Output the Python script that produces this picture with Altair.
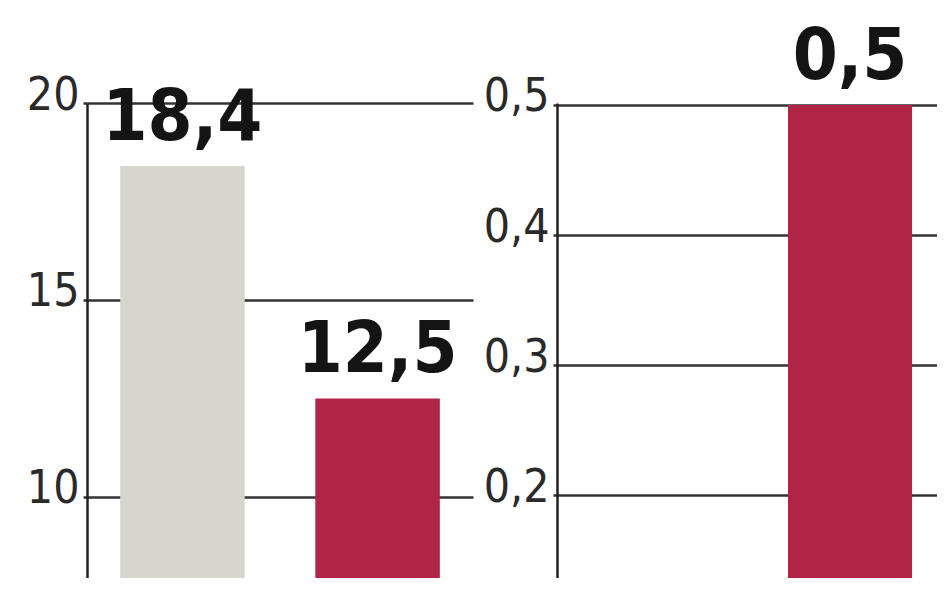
import altair as alt
import pandas as pd

# ---- data ----
categories = ["A", "B"]
left_values = [18.4, 12.5]
right_categories = ["B"]
right_values = [0.5]
bar_colors = ["#d6d6cc", "#b02445"]
left_ticks = [10, 15, 20]
right_ticks = [0.2, 0.3, 0.4, 0.5]

FONT = "Liberation Sans Narrow, DejaVu Sans Condensed, Roboto Condensed, sans-serif"

left_df = pd.DataFrame({"cat": categories, "val": left_values})
right_df = pd.DataFrame({"cat": right_categories, "val": right_values})

cscale = alt.Scale(domain=categories, range=bar_colors)


def axis(values, expr):
    return alt.Axis(
        values=values,
        labelExpr=expr,
        grid=True,
        gridColor="#333333",
        gridWidth=2.5,
        domain=True,
        domainColor="#222222",
        domainWidth=2.5,
        ticks=True,
        tickSize=4,
        tickColor="#333333",
        tickWidth=2.5,
        labelFont=FONT,
        labelFontSize=46,
        labelColor="#2a2a2a",
        labelPadding=4,
        labelOffset=-8,
        title=None,
    )


def panel(df, domain, values, expr, w, h, p_in, p_out):
    xscale = alt.Scale(domain=categories, paddingInner=p_in, paddingOuter=p_out)
    base = alt.Chart(df).transform_calculate(
        lab="replace(format(datum.val, '.1f'), '.', ',')"
    ).encode(x=alt.X("cat:N", scale=xscale, axis=None))
    bars = base.mark_bar(clip=True).encode(
        y=alt.Y("val:Q", scale=alt.Scale(domain=domain, nice=False, zero=False),
                axis=axis(values, expr)),
        color=alt.Color("cat:N", scale=cscale, legend=None),
    )
    text = base.mark_text(
        font=FONT, fontSize=72, fontWeight="bold", baseline="alphabetic",
        dy=-26, color="#141414"
    ).encode(y=alt.Y("val:Q"), text="lab:N")
    return alt.layer(bars, text).properties(width=w, height=h)


left = panel(left_df, [7.56, 20], left_ticks, "format(datum.value, 'd')",
             386, 490, 0.362, 0.17)
right = panel(right_df, [0.125, 0.5015], right_ticks,
              "replace(format(datum.value, '.1f'), '.', ',')",
              380, 490, 0.398, 0.121)

chart = alt.hconcat(left, right, spacing=10).properties(
    padding={"left": 18, "top": 12, "right": 0, "bottom": -15},
    background="white",
).configure_view(stroke=None)

chart.save("out.html", embed_options={"renderer": "svg", "actions": False})
